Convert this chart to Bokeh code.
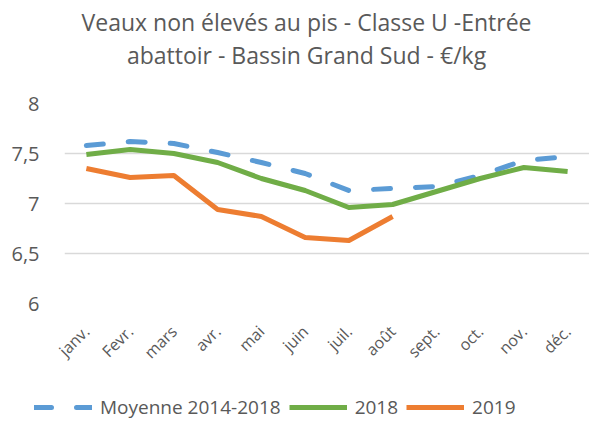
import math
from bokeh.plotting import figure
from bokeh.layouts import column, row
from bokeh.models import FactorRange, Range1d, Legend, LegendItem
from bokeh.core.properties import value
from bokeh.embed import file_html
from bokeh.resources import INLINE

months = ["janv.", "Fevr.", "mars", "avr.", "mai", "juin", "juil.", "août", "sept.", "oct.", "nov.", "déc."]
moyenne = [7.58, 7.62, 7.60, 7.51, 7.41, 7.30, 7.13, 7.15, 7.17, 7.28, 7.43, 7.47]
y2018 = [7.49, 7.54, 7.50, 7.41, 7.25, 7.13, 6.96, 6.99, 7.12, 7.25, 7.36, 7.32]
months2019 = months[:8]
y2019 = [7.35, 7.26, 7.28, 6.94, 6.87, 6.66, 6.63, 6.87]
yticks = [6, 6.5, 7, 7.5, 8]
ytick_labels = {6: "6", 6.5: "6,5", 7: "7", 7.5: "7,5", 8: "8"}
series_labels = ["Moyenne 2014-2018", "2018", "2019"]
title_lines = ["Veaux non élevés au pis - Classe U -Entrée", "abattoir - Bassin Grand Sud - €/kg"]

FONT = "Open Sans"
GRAY = "#595959"
COLORS = ["#5B9BD5", "#70AD47", "#ED7D31"]
DASH = "17 25"


def strip(height, xr, yr):
    f = figure(width=589, height=height, x_range=xr, y_range=yr,
               x_axis_location=None, y_axis_location=None,
               output_backend="svg", toolbar_location=None,
               min_border_left=0, min_border_right=0, min_border_top=0, min_border_bottom=0)
    f.outline_line_color = None
    f.grid.visible = False
    return f


# title strip (pixel-like ranges)
pt = strip(85, Range1d(0, 1), Range1d(0, 85))
pt.text(x=[0.461, 0.461], y=[64, 31], text=title_lines, text_align="center",
        text_baseline="alphabetic", text_font=value(FONT), text_font_size="23px", text_color=GRAY)

# main chart
p = figure(width=589, height=290, x_range=FactorRange(*months), y_range=Range1d(6, 8),
           output_backend="svg", toolbar_location=None,
           min_border_left=64, min_border_right=0, min_border_top=18, min_border_bottom=72)
p.outline_line_color = None
p.xgrid.grid_line_color = None
p.ygrid.grid_line_color = "#D9D9D9"
p.ygrid.grid_line_width = 1.5
p.yaxis.ticker = yticks
p.yaxis.major_label_overrides = ytick_labels
for ax in (p.xaxis, p.yaxis):
    ax.axis_line_color = None
    ax.major_tick_line_color = None
    ax.minor_tick_line_color = None
    ax.major_label_text_color = GRAY
    ax.major_label_text_font = FONT
p.yaxis.major_label_text_font_size = "20px"
p.yaxis.major_label_standoff = 19
p.xaxis.major_label_text_font_size = "16px"
p.xaxis.major_label_orientation = math.pi / 4
p.xaxis.major_label_standoff = 19

p.line(months, moyenne, line_color=COLORS[0], line_width=5, line_dash=DASH, line_cap="round")
p.line(months, y2018, line_color=COLORS[1], line_width=5, line_join="round")
p.line(months2019, y2019, line_color=COLORS[2], line_width=5, line_join="round")

# legend strip (series drawn outside its visible range, only the legend shows)
pl = strip(48, Range1d(0, 1), Range1d(0, 1))
idx = list(range(len(months)))
lr1 = pl.line(idx, moyenne, line_color=COLORS[0], line_width=5, line_dash=DASH, line_cap="round")
lr2 = pl.line(idx, y2018, line_color=COLORS[1], line_width=5)
lr3 = pl.line(idx[:len(y2019)], y2019, line_color=COLORS[2], line_width=5)
legend = Legend(items=[LegendItem(label=series_labels[0], renderers=[lr1]),
                       LegendItem(label=series_labels[1], renderers=[lr2]),
                       LegendItem(label=series_labels[2], renderers=[lr3])],
                orientation="horizontal", location=(34, 3),
                label_text_font=FONT, label_text_font_size="19px", label_text_color=GRAY,
                glyph_width=58, glyph_height=20, label_height=20, spacing=8, label_standoff=8,
                border_line_color=None, background_fill_alpha=0, padding=0, margin=0)
pl.add_layout(legend, "center")

layout = column(pt, p, row(pl), spacing=0)
open("out.html", "w").write(file_html(layout, INLINE))
